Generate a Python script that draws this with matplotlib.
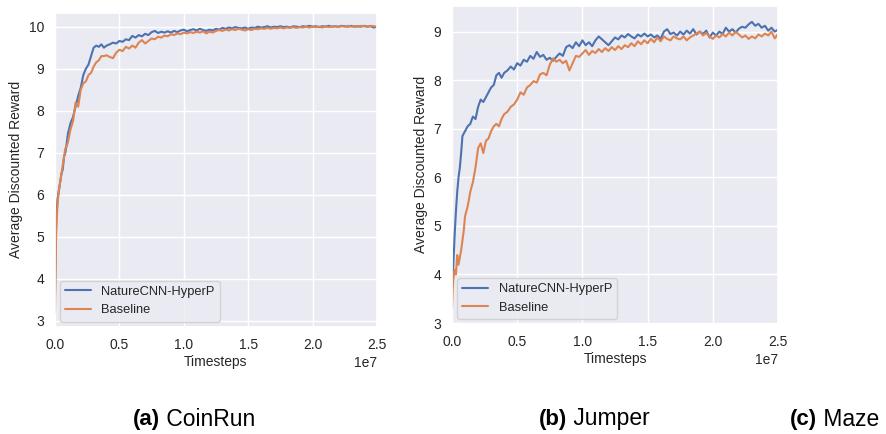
import numpy as np
import matplotlib
matplotlib.use("Agg")
import matplotlib.pyplot as plt
import seaborn as sns

# timesteps in units of 1e7 (shared by both panels)
steps = [0.0, 0.005, 0.01, 0.02, 0.03, 0.04, 0.05, 0.06, 0.07, 0.08, 0.09, 0.10,
         0.12, 0.14, 0.16, 0.18, 0.20, 0.22, 0.24, 0.26, 0.28, 0.30, 0.32, 0.34,
         0.36, 0.38, 0.40,
         0.425, 0.45, 0.475, 0.5, 0.525, 0.55, 0.575, 0.6, 0.625, 0.65, 0.675, 0.7,
         0.725, 0.75, 0.775, 0.8, 0.825, 0.85, 0.875, 0.9, 0.925, 0.95, 0.975, 1.0,
         1.025, 1.05, 1.075, 1.1, 1.125, 1.15, 1.175, 1.2, 1.225, 1.25, 1.275, 1.3,
         1.325, 1.35, 1.375, 1.4, 1.425, 1.45, 1.475, 1.5, 1.525, 1.55, 1.575, 1.6,
         1.625, 1.65, 1.675, 1.7, 1.725, 1.75, 1.775, 1.8, 1.825, 1.85, 1.875, 1.9,
         1.925, 1.95, 1.975, 2.0, 2.025, 2.05, 2.075, 2.1, 2.125, 2.15, 2.175, 2.2,
         2.225, 2.25, 2.275, 2.3, 2.325, 2.35, 2.375, 2.4, 2.425, 2.45, 2.475, 2.5]

coinrun_hyperp = [3.6, 4.8, 5.4, 5.9, 6.1, 6.3, 6.5, 6.6, 6.9, 7.0, 7.2, 7.45,
                  7.7, 7.85, 8.1, 8.35, 8.55, 8.85, 9.0, 9.1, 9.3, 9.5, 9.55, 9.52,
                  9.58, 9.5, 9.55,
                  9.58, 9.62, 9.6, 9.66, 9.64, 9.7, 9.68, 9.78, 9.74, 9.8, 9.77, 9.83,
                  9.8, 9.87, 9.9, 9.85, 9.88, 9.86, 9.89, 9.86, 9.9, 9.87, 9.91, 9.93,
                  9.89, 9.92, 9.94, 9.91, 9.95, 9.92, 9.9, 9.93, 9.91, 9.95, 9.93, 9.97,
                  9.95, 9.98, 9.96, 9.99, 9.97, 9.96, 9.98, 9.95, 9.98, 9.97, 10.0, 9.98,
                  9.99, 10.01, 9.98, 10.0, 9.99, 10.01, 9.99, 10.0, 9.98, 10.01, 10.0, 9.99,
                  10.01, 10.0, 10.02, 10.0, 10.01, 9.99, 10.01, 10.0, 10.02, 10.0, 10.01, 10.0,
                  10.02, 10.01, 10.0, 10.02, 10.0, 10.01, 10.0, 10.02, 10.0, 10.01, 9.98, 10.0]
coinrun_base = [3.2, 4.4, 5.2, 5.8, 6.1, 6.3, 6.5, 6.7, 6.9, 7.1, 7.15, 7.25,
                7.55, 7.75, 8.2, 8.1, 8.5, 8.65, 8.7, 8.85, 8.9, 9.05, 9.15, 9.2,
                9.3, 9.3, 9.32,
                9.28, 9.25, 9.38, 9.45, 9.42, 9.52, 9.48, 9.55, 9.5, 9.62, 9.68, 9.6,
                9.66, 9.72, 9.7, 9.76, 9.74, 9.79, 9.77, 9.82, 9.8, 9.84, 9.82, 9.86,
                9.84, 9.87, 9.85, 9.88, 9.86, 9.89, 9.84, 9.88, 9.86, 9.9, 9.92, 9.9,
                9.93, 9.91, 9.94, 9.92, 9.95, 9.93, 9.91, 9.94, 9.92, 9.95, 9.94, 9.96,
                9.95, 9.97, 9.95, 9.97, 9.96, 9.98, 9.96, 9.98, 9.97, 9.99, 9.97, 9.99,
                9.98, 10.0, 9.98, 10.0, 9.99, 10.0, 9.98, 10.01, 9.99, 10.0, 10.01, 9.99,
                10.01, 10.0, 10.02, 10.0, 10.01, 10.0, 10.02, 10.01, 10.0, 10.02, 10.01, 10.0]

jumper_hyperp = [3.8, 4.0, 4.2, 4.8, 5.3, 5.7, 6.0, 6.2, 6.5, 6.85, 6.9, 6.95,
                 7.05, 7.1, 7.25, 7.2, 7.45, 7.6, 7.55, 7.65, 7.75, 7.85, 7.9, 8.1,
                 8.15, 8.05, 8.15,
                 8.2, 8.28, 8.22, 8.35, 8.3, 8.42, 8.38, 8.5, 8.44, 8.58, 8.48, 8.52,
                 8.42, 8.46, 8.4, 8.48, 8.55, 8.5, 8.68, 8.72, 8.66, 8.78, 8.7, 8.82,
                 8.72, 8.78, 8.7, 8.82, 8.9, 8.84, 8.78, 8.72, 8.8, 8.88, 8.84, 8.92,
                 8.88, 8.95, 8.9, 8.86, 8.94, 8.9, 8.96, 8.9, 8.94, 8.88, 8.92, 8.85,
                 9.0, 9.05, 8.95, 8.98, 8.92, 9.0, 8.94, 9.02, 8.96, 9.05, 8.94, 9.0,
                 8.95, 9.02, 8.88, 8.98, 8.92, 9.0, 8.95, 9.08, 9.0, 9.05, 8.98, 9.06,
                 9.1, 9.08, 9.15, 9.2, 9.12, 9.16, 9.08, 9.12, 9.02, 9.08, 9.0, 9.04]
jumper_base = [3.3, 3.7, 3.9, 4.1, 4.0, 4.4, 4.2, 4.35, 4.5, 4.7, 4.9, 5.2,
               5.4, 5.7, 5.9, 6.2, 6.6, 6.7, 6.5, 6.75, 6.8, 6.95, 7.05, 7.1,
               7.05, 7.2, 7.3,
               7.35, 7.45, 7.5, 7.6, 7.75, 7.7, 7.85, 7.9, 7.98, 7.95, 8.12, 8.15,
               8.1, 8.32, 8.45, 8.38, 8.42, 8.35, 8.4, 8.2, 8.35, 8.5, 8.48, 8.55,
               8.62, 8.52, 8.6, 8.56, 8.64, 8.58, 8.66, 8.6, 8.68, 8.62, 8.7, 8.64,
               8.72, 8.68, 8.76, 8.7, 8.8, 8.74, 8.82, 8.76, 8.85, 8.78, 8.88, 8.8,
               8.9, 8.85, 8.82, 8.9, 8.86, 8.84, 8.9, 8.82, 8.88, 8.92, 8.96, 9.0,
               8.92, 8.97, 8.9, 8.85, 8.92, 8.88, 8.95, 8.9, 8.98, 8.92, 9.0, 8.94,
               8.88, 8.92, 8.85, 8.9, 8.86, 8.94, 8.9, 8.96, 8.92, 9.0, 8.86, 8.95]

labels = ["NatureCNN-HyperP", "Baseline"]
captions = [("(a)", "CoinRun"), ("(b)", "Jumper"), ("(c)", "Maze")]

sns.set_theme(style="darkgrid")
plt.rcParams['font.family'] = ['Liberation Sans', 'DejaVu Sans']
blue, orange = sns.color_palette("deep")[0], sns.color_palette("deep")[1]

fig = plt.figure(figsize=(8.87, 4.34), dpi=100)
ax1 = fig.add_axes([0.062, 0.247, 0.363, 0.7235])
ax2 = fig.add_axes([0.5096, 0.2535, 0.3675, 0.733])

x = np.array(steps) * 1e7
panels = [(ax1, coinrun_hyperp, coinrun_base, (2.86, 10.33)),
          (ax2, jumper_hyperp, jumper_base, (2.98, 9.53))]
for ax, hp, base, ylim in panels:
    ax.plot(x, hp, color=blue, lw=1.5, label=labels[0])
    ax.plot(x, base, color=orange, lw=1.5, label=labels[1])
    ax.set_xlim(0, 2.5e7)
    ax.set_ylim(*ylim)
    ax.set_xlabel("Timesteps", fontsize=10, labelpad=2)
    ax.set_ylabel("Average Discounted Reward", fontsize=10)
    ax.tick_params(labelsize=10, pad=2)
    ax.xaxis.get_offset_text().set_fontsize(10)
    ax.legend(loc="lower left", fontsize=9.3, borderaxespad=0.4)

# caption split point (px) between bold tag and name
cap_x = [160, 567, 817]
for (tag, name), cx in zip(captions, cap_x):
    fig.text(cx / 887, 1 - 419 / 434, tag, fontsize=16, fontweight="bold",
             ha="right", va="center", color="black")
    fig.text(cx / 887, 1 - 419 / 434, " " + name, fontsize=16.5,
             ha="left", va="center", color="black")

fig.savefig("out.png", dpi=100)
